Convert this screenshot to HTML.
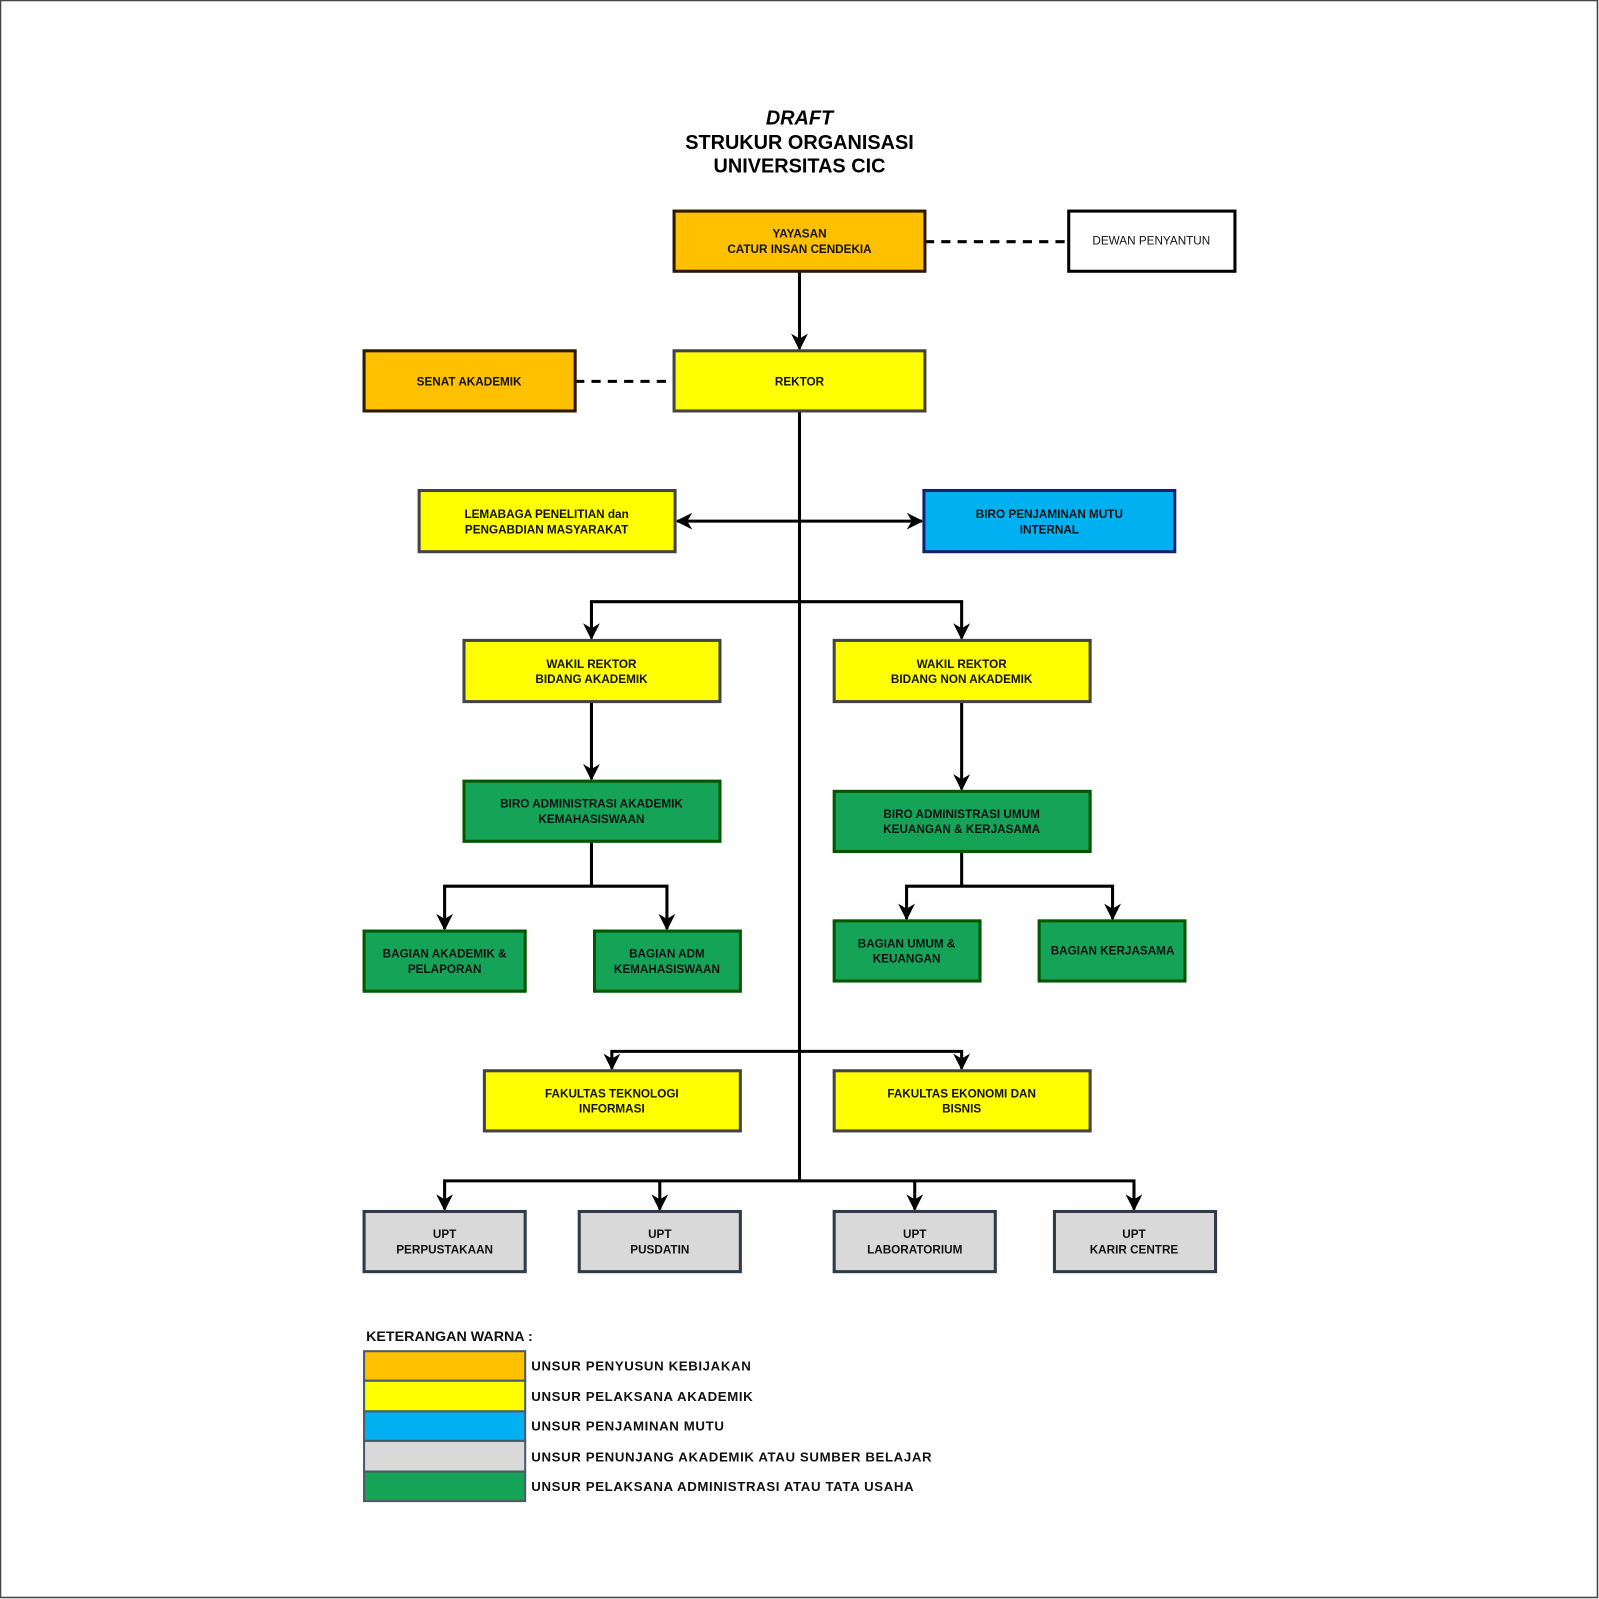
<!DOCTYPE html>
<html><head><meta charset="utf-8"><style>
html,body{margin:0;padding:0;background:#fff}
svg{display:block}
text{font-family:"Liberation Sans",Arial,sans-serif;}
.b{font-size:11.5px;font-weight:bold;fill:#111;text-anchor:middle}
.l{font-size:13px;font-weight:bold;fill:#111;letter-spacing:0.6px}
</style></head><body>
<svg width="1599" height="1599" viewBox="0 0 1568 1568" xmlns="http://www.w3.org/2000/svg">
<defs><marker id="a" viewBox="0 0 10 10" refX="9" refY="5" markerWidth="5.5" markerHeight="5.5" orient="auto-start-reverse"><path d="M0,0 L10,5 L0,10 L3,5 z" fill="#000"/></marker></defs>
<rect x="0.5" y="0.5" width="1566" height="1566" fill="#fff" stroke="#444" stroke-width="1.5"/>
<text x="784" y="122" font-size="19.5" font-weight="bold" font-style="italic" text-anchor="middle">DRAFT</text>
<text x="784" y="146" font-size="19.5" font-weight="bold" text-anchor="middle">STRUKUR ORGANISASI</text>
<text x="784" y="169" font-size="19.5" font-weight="bold" text-anchor="middle">UNIVERSITAS CIC</text>
<g stroke="#000" stroke-width="3" fill="none">
<path d="M907,237 H1048" stroke-dasharray="9,7"/>
<path d="M564,374 H661" stroke-dasharray="9,7"/>
<path d="M784,266 V342" marker-end="url(#a)"/>
<path d="M784,403 V1158"/>
<path d="M664,511 H904" marker-start="url(#a)" marker-end="url(#a)"/>
<path d="M580,626 V590 H943 V626" marker-start="url(#a)" marker-end="url(#a)"/>
<path d="M580,688 V764" marker-end="url(#a)"/>
<path d="M943,688 V774" marker-end="url(#a)"/>
<path d="M580,825 V869"/>
<path d="M436,911 V869 H654 V911" marker-start="url(#a)" marker-end="url(#a)"/>
<path d="M943,835 V869"/>
<path d="M889,901 V869 H1091 V901" marker-start="url(#a)" marker-end="url(#a)"/>
<path d="M600,1048 V1031 H943 V1048" marker-start="url(#a)" marker-end="url(#a)"/>
<path d="M436,1186 V1158 H1112 V1186" marker-start="url(#a)" marker-end="url(#a)"/>
<path d="M647,1158 V1186" marker-end="url(#a)"/>
<path d="M897,1158 V1186" marker-end="url(#a)"/>
</g>
<g stroke-width="3">
<rect x="661" y="207" width="246" height="59" fill="#FFC000" stroke="#2b1a00"/>
<rect x="1048" y="207" width="163" height="59" fill="#fff" stroke="#000"/>
<rect x="357" y="344" width="207" height="59" fill="#FFC000" stroke="#2b1a00"/>
<rect x="661" y="344" width="246" height="59" fill="#FFFF00" stroke="#444"/>
<rect x="411" y="481" width="251" height="60" fill="#FFFF00" stroke="#444"/>
<rect x="906" y="481" width="246" height="60" fill="#00B0F0" stroke="#10246b"/>
<rect x="455" y="628" width="251" height="60" fill="#FFFF00" stroke="#444"/>
<rect x="818" y="628" width="251" height="60" fill="#FFFF00" stroke="#444"/>
<rect x="455" y="766" width="251" height="59" fill="#15A358" stroke="#005700"/>
<rect x="818" y="776" width="251" height="59" fill="#15A358" stroke="#005700"/>
<rect x="357" y="913" width="158" height="59" fill="#15A358" stroke="#005700"/>
<rect x="583" y="913" width="143" height="59" fill="#15A358" stroke="#005700"/>
<rect x="818" y="903" width="143" height="59" fill="#15A358" stroke="#005700"/>
<rect x="1019" y="903" width="143" height="59" fill="#15A358" stroke="#005700"/>
<rect x="475" y="1050" width="251" height="59" fill="#FFFF00" stroke="#444"/>
<rect x="818" y="1050" width="251" height="59" fill="#FFFF00" stroke="#444"/>
<rect x="357" y="1188" width="158" height="59" fill="#D9D9D9" stroke="#2e3b48"/>
<rect x="568" y="1188" width="158" height="59" fill="#D9D9D9" stroke="#2e3b48"/>
<rect x="818" y="1188" width="158" height="59" fill="#D9D9D9" stroke="#2e3b48"/>
<rect x="1034" y="1188" width="158" height="59" fill="#D9D9D9" stroke="#2e3b48"/>
</g>
<g stroke="#4a5a6a" stroke-width="2">
<rect x="357" y="1325" width="158" height="29" fill="#FFC000"/>
<rect x="357" y="1354" width="158" height="30" fill="#FFFF00"/>
<rect x="357" y="1384" width="158" height="29" fill="#00B0F0"/>
<rect x="357" y="1413" width="158" height="30" fill="#D9D9D9"/>
<rect x="357" y="1443" width="158" height="29" fill="#15A358"/>
</g>
<g class="b">
<text class="b" x="784" y="233">YAYASAN</text><text class="b" x="784" y="248">CATUR INSAN CENDEKIA</text>
<text class="b" x="1129" y="240" style="font-weight:normal">DEWAN PENYANTUN</text>
<text class="b" x="460" y="378">SENAT AKADEMIK</text>
<text class="b" x="784" y="378">REKTOR</text>
<text class="b" x="536" y="508">LEMABAGA PENELITIAN dan</text><text class="b" x="536" y="523">PENGABDIAN MASYARAKAT</text>
<text class="b" x="1029" y="508">BIRO PENJAMINAN MUTU</text><text class="b" x="1029" y="523">INTERNAL</text>
<text class="b" x="580" y="655">WAKIL REKTOR</text><text class="b" x="580" y="670">BIDANG AKADEMIK</text>
<text class="b" x="943" y="655">WAKIL REKTOR</text><text class="b" x="943" y="670">BIDANG NON AKADEMIK</text>
<text class="b" x="580" y="792">BIRO ADMINISTRASI AKADEMIK</text><text class="b" x="580" y="807">KEMAHASISWAAN</text>
<text class="b" x="943" y="802">BIRO ADMINISTRASI UMUM</text><text class="b" x="943" y="817">KEUANGAN &amp; KERJASAMA</text>
<text class="b" x="436" y="939">BAGIAN AKADEMIK &amp;</text><text class="b" x="436" y="954">PELAPORAN</text>
<text class="b" x="654" y="939">BAGIAN ADM</text><text class="b" x="654" y="954">KEMAHASISWAAN</text>
<text class="b" x="889" y="929">BAGIAN UMUM &amp;</text><text class="b" x="889" y="944">KEUANGAN</text>
<text class="b" x="1091" y="936">BAGIAN KERJASAMA</text>
<text class="b" x="600" y="1076">FAKULTAS TEKNOLOGI</text><text class="b" x="600" y="1091">INFORMASI</text>
<text class="b" x="943" y="1076">FAKULTAS EKONOMI DAN</text><text class="b" x="943" y="1091">BISNIS</text>
<text class="b" x="436" y="1214">UPT</text><text class="b" x="436" y="1229">PERPUSTAKAAN</text>
<text class="b" x="647" y="1214">UPT</text><text class="b" x="647" y="1229">PUSDATIN</text>
<text class="b" x="897" y="1214">UPT</text><text class="b" x="897" y="1229">LABORATORIUM</text>
<text class="b" x="1112" y="1214">UPT</text><text class="b" x="1112" y="1229">KARIR CENTRE</text>
</g>
<text x="359" y="1315" font-size="14" font-weight="bold" fill="#111">KETERANGAN WARNA :</text>
<text class="l" x="521" y="1344">UNSUR PENYUSUN KEBIJAKAN</text>
<text class="l" x="521" y="1374">UNSUR PELAKSANA AKADEMIK</text>
<text class="l" x="521" y="1403">UNSUR PENJAMINAN MUTU</text>
<text class="l" x="521" y="1433">UNSUR PENUNJANG AKADEMIK ATAU SUMBER BELAJAR</text>
<text class="l" x="521" y="1462">UNSUR PELAKSANA ADMINISTRASI ATAU TATA USAHA</text>
</svg>
</body></html>
